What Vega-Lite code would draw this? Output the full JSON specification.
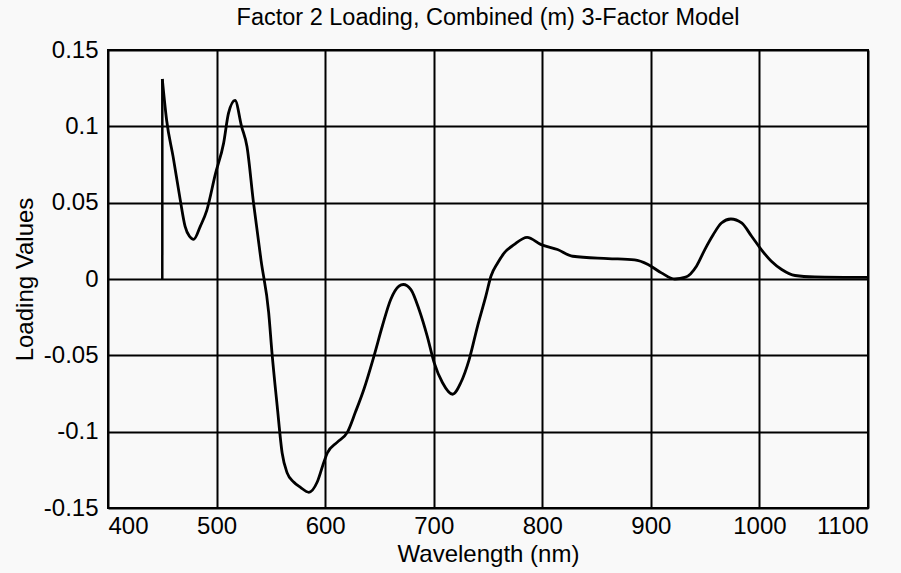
{
  "$schema": "https://vega.github.io/schema/vega-lite/v6.json",
  "width": 760,
  "height": 458,
  "autosize": {"type": "none"},
  "padding": {"left": 108, "top": 50, "right": 33, "bottom": 65},
  "background": "#f9f9f9",
  "title": {
    "text": "Factor 2 Loading, Combined (m) 3-Factor Model",
    "font": "Liberation Sans",
    "fontSize": 23.5,
    "fontWeight": "normal",
    "color": "#000000",
    "offset": 9,
    "anchor": "middle"
  },
  "config": {
    "view": {"stroke": "#000000", "strokeWidth": 2},
    "axis": {
      "labelFont": "Liberation Sans",
      "titleFont": "Liberation Sans",
      "labelColor": "#000000",
      "titleColor": "#000000",
      "labelFontSize": 24,
      "titleFontSize": 24,
      "titleFontWeight": "normal",
      "grid": true,
      "gridColor": "#000000",
      "gridWidth": 2,
      "gridOpacity": 1,
      "domain": false,
      "ticks": false
    }
  },
  "datasets": {
    "start": [
      {"wl": 450, "v": 0.0},
      {"wl": 450.01, "v": 0.131}
    ],
    "curve": [
      {"wl": 450, "v": 0.131},
      {"wl": 454, "v": 0.104},
      {"wl": 460, "v": 0.080},
      {"wl": 466.5, "v": 0.052},
      {"wl": 471, "v": 0.0345},
      {"wl": 475, "v": 0.028},
      {"wl": 479, "v": 0.026},
      {"wl": 485, "v": 0.0345},
      {"wl": 491, "v": 0.045},
      {"wl": 499, "v": 0.069},
      {"wl": 506.5, "v": 0.089},
      {"wl": 511, "v": 0.1086},
      {"wl": 517, "v": 0.117},
      {"wl": 523, "v": 0.1},
      {"wl": 528, "v": 0.0868},
      {"wl": 534, "v": 0.05},
      {"wl": 541, "v": 0.012},
      {"wl": 548, "v": -0.022},
      {"wl": 551, "v": -0.048},
      {"wl": 555.8, "v": -0.083},
      {"wl": 560.4, "v": -0.114},
      {"wl": 565, "v": -0.127},
      {"wl": 571, "v": -0.133},
      {"wl": 577.3, "v": -0.1365},
      {"wl": 585, "v": -0.1397},
      {"wl": 592.7, "v": -0.133},
      {"wl": 598.8, "v": -0.12},
      {"wl": 602, "v": -0.114},
      {"wl": 611, "v": -0.107},
      {"wl": 620.4, "v": -0.1005},
      {"wl": 628, "v": -0.087},
      {"wl": 635.7, "v": -0.0722},
      {"wl": 645, "v": -0.0504},
      {"wl": 652.7, "v": -0.0308},
      {"wl": 660.4, "v": -0.0134},
      {"wl": 668, "v": -0.0047},
      {"wl": 672, "v": -0.0036},
      {"wl": 679, "v": -0.0069},
      {"wl": 686.5, "v": -0.02},
      {"wl": 694, "v": -0.0374},
      {"wl": 700.4, "v": -0.0548},
      {"wl": 708, "v": -0.0678},
      {"wl": 717.4, "v": -0.0755},
      {"wl": 725, "v": -0.0678},
      {"wl": 732.7, "v": -0.0526},
      {"wl": 740.4, "v": -0.0308},
      {"wl": 748, "v": -0.0112},
      {"wl": 752.7, "v": 0.0018},
      {"wl": 759, "v": 0.0106},
      {"wl": 765, "v": 0.0171},
      {"wl": 774, "v": 0.0225},
      {"wl": 786, "v": 0.0273},
      {"wl": 799, "v": 0.0225},
      {"wl": 814, "v": 0.0193},
      {"wl": 828, "v": 0.0149},
      {"wl": 860.5, "v": 0.0134},
      {"wl": 885, "v": 0.0125},
      {"wl": 897.4, "v": 0.0095},
      {"wl": 909.7, "v": 0.004},
      {"wl": 922, "v": 0.0},
      {"wl": 932, "v": 0.0012},
      {"wl": 942, "v": 0.0084},
      {"wl": 949.7, "v": 0.0193},
      {"wl": 957.4, "v": 0.029},
      {"wl": 965, "v": 0.0367},
      {"wl": 973.7, "v": 0.0393},
      {"wl": 983.6, "v": 0.0367},
      {"wl": 992.8, "v": 0.028},
      {"wl": 1000.5, "v": 0.0204},
      {"wl": 1011, "v": 0.0116},
      {"wl": 1020.5, "v": 0.0062},
      {"wl": 1032.8, "v": 0.0023},
      {"wl": 1051, "v": 0.0014},
      {"wl": 1100, "v": 0.001}
    ]
  },
  "encoding": {
    "x": {
      "field": "wl",
      "type": "quantitative",
      "scale": {"domain": [400, 1100], "nice": false, "zero": false},
      "axis": {
        "values": [400, 500, 600, 700, 800, 900, 1000, 1100],
        "title": "Wavelength (nm)",
        "labelPadding": 6,
        "titlePadding": 4,
        "labelExpr": "datum.value + ''"
      }
    },
    "y": {
      "field": "v",
      "type": "quantitative",
      "scale": {"domain": [-0.15, 0.15], "nice": false, "zero": false},
      "axis": {
        "values": [-0.15, -0.1, -0.05, 0, 0.05, 0.1, 0.15],
        "title": "Loading Values",
        "labelPadding": 10,
        "titlePadding": 6,
        "labelExpr": "datum.value + ''"
      }
    }
  },
  "layer": [
    {
      "data": {"name": "start"},
      "mark": {"type": "line", "color": "#000000", "strokeWidth": 2.5, "clip": true}
    },
    {
      "data": {"name": "curve"},
      "mark": {"type": "line", "color": "#000000", "strokeWidth": 2.8, "interpolate": "monotone", "clip": true}
    }
  ]
}
